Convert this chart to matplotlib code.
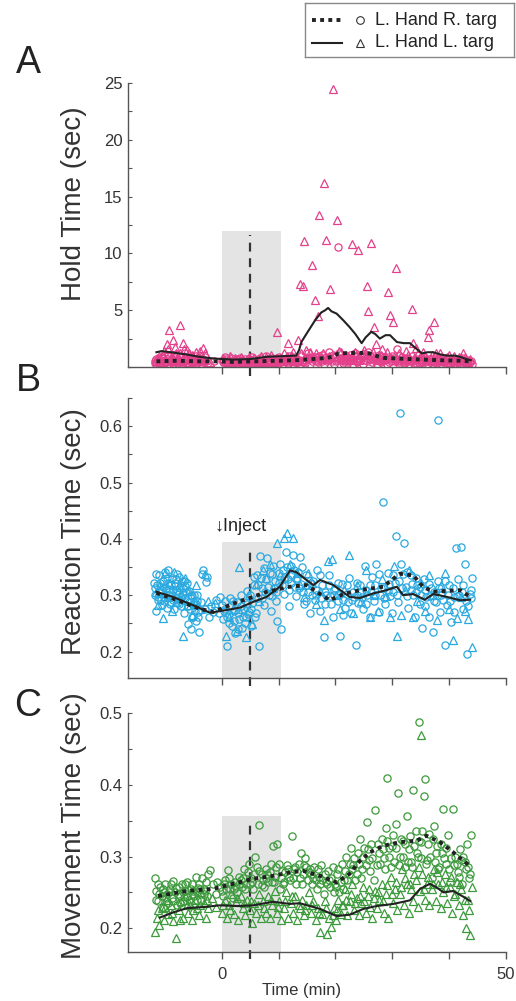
import numpy as np
import matplotlib.pyplot as plt
from matplotlib.ticker import MultipleLocator, FixedLocator, NullFormatter

TICK_SIZE = 12
LABEL_SIZE = 20
LETTER_SIZE = 27
TEXT_COLOR = "#333333"
SPINE_COLOR = "#555555"

PINK = "#e3408c"
BLUE = "#2aa9e0"
GREEN = "#3c9a3c"

plt.rcParams["font.family"] = ["Liberation Sans", "DejaVu Sans"]

# ------------------------------------------------------------------------------------------------------------- #
# Data: (time [min], value [sec])
# ------------------------------------------------------------------------------------------------------------- #
hold_circ = [(-11.8, 0.35), (-11.5, 0.7), (-11.3, 0.6), (-11.0, 0.25), (-10.8, 0.3), (-10.5, 0.9), (-10.3, 0.8),
             (-10.0, 0.4), (-9.8, 0.45), (-9.5, 1.1), (-9.3, 0.25), (-9.0, 0.55), (-8.8, 0.7), (-8.5, 0.3),
             (-8.3, 0.5), (-8.0, 1.0), (-7.8, 0.35), (-7.5, 0.6), (-7.3, 0.9), (-7.0, 0.3), (-6.8, 0.4),
             (-6.5, 1.2), (-6.3, 0.6), (-6.0, 0.3), (-5.8, 0.3), (-5.5, 0.85), (-5.3, 0.75), (-5.0, 0.4),
             (-4.8, 0.5), (-4.5, 1.0), (-4.3, 0.35), (-4.0, 0.6), (-3.8, 0.65), (-3.5, 0.3), (-3.3, 0.45),
             (-3.0, 0.9), (-2.6, 0.3), (-1.4, 0.5), (0.2, 0.4), (0.5, 0.9), (0.8, 0.7), (1.1, 0.5), (1.4, 0.3),
             (1.7, 0.8), (2.0, 0.55), (2.3, 0.3), (2.6, 0.35), (2.9, 0.6), (3.2, 0.8), (3.5, 0.3), (3.8, 0.45),
             (4.1, 0.7), (4.4, 0.3), (4.7, 0.5), (5.0, 0.6), (5.3, 0.9), (5.6, 0.25), (5.9, 0.45), (6.2, 0.5),
             (6.5, 0.3), (6.8, 0.75), (7.1, 0.5), (7.4, 0.35), (7.7, 1.0), (8.0, 0.55), (8.3, 0.3), (8.6, 0.4),
             (8.9, 0.8), (9.2, 0.65), (9.5, 0.35), (9.8, 0.3), (10.1, 0.9), (10.4, 0.5), (10.7, 0.3), (11.0, 0.7),
             (11.3, 0.5), (11.6, 0.4), (11.9, 1.0), (12.2, 0.55), (12.5, 0.3), (12.8, 0.85), (13.1, 0.6),
             (13.4, 0.45), (13.7, 0.3), (14.0, 1.0), (14.3, 0.4), (14.6, 0.6), (14.9, 0.8), (15.2, 1.2),
             (15.5, 0.3), (15.8, 0.5), (16.1, 0.7), (16.4, 0.9), (16.7, 0.5), (17.0, 0.4), (17.3, 0.8),
             (17.6, 1.1), (17.9, 0.3), (18.2, 0.7), (18.5, 0.5), (18.8, 1.3), (19.1, 0.9), (19.4, 0.5),
             (19.7, 0.3), (20.0, 0.9), (20.3, 0.6), (20.5, 10.6), (20.7, 1.2), (21.0, 0.6), (21.3, 0.35),
             (21.6, 1.0), (21.9, 0.7), (22.2, 0.4), (22.5, 1.1), (22.8, 0.8), (23.1, 0.3), (23.4, 1.2),
             (23.7, 0.6), (24.0, 0.5), (24.3, 1.0), (24.6, 0.9), (24.9, 0.3), (25.2, 0.6), (25.5, 1.1),
             (25.8, 1.3), (26.1, 0.7), (26.4, 0.45), (26.7, 1.0), (27.0, 0.8), (27.3, 0.3), (27.6, 1.1),
             (27.9, 0.6), (28.2, 0.5), (28.5, 0.9), (28.8, 0.7), (29.1, 0.3), (29.4, 0.4), (29.7, 0.8),
             (30.0, 1.0), (30.4, 0.5), (30.8, 1.6), (31.1, 0.3), (31.4, 0.6), (31.7, 0.9), (32.0, 0.35),
             (32.3, 0.6), (32.6, 0.8), (32.9, 0.3), (33.2, 0.5), (33.5, 1.0), (33.8, 0.3), (34.1, 0.6),
             (34.4, 0.7), (34.7, 0.35), (35.0, 0.45), (35.3, 0.8), (35.6, 0.9), (35.9, 0.5), (36.2, 0.3),
             (36.5, 0.7), (36.8, 0.6), (37.1, 0.3), (37.4, 0.4), (37.7, 0.9), (38.0, 0.75), (38.3, 0.5),
             (38.6, 0.3), (38.9, 0.6), (39.2, 0.55), (39.5, 0.8), (39.8, 0.35), (40.1, 0.5), (40.4, 0.65),
             (40.7, 0.3), (41.0, 0.3), (41.3, 0.7), (41.6, 0.5), (41.9, 0.4), (42.2, 0.8), (42.5, 0.3),
             (42.8, 0.35), (43.1, 0.6), (43.4, 0.55), (43.7, 0.4), (44.0, 0.3)]
hold_circ2 = [(-11.7, 0.5), (-11.2, 0.4), (-10.7, 0.6), (-10.2, 0.3), (-9.7, 0.7), (-9.2, 0.5), (-8.7, 0.4),
              (-8.2, 0.8), (-7.7, 0.55), (-7.2, 0.45), (-6.7, 0.65), (-6.2, 0.35), (-5.7, 0.55), (-5.2, 0.4),
              (-4.7, 0.7), (-4.2, 0.5), (-3.7, 0.3), (-3.2, 0.6), (0.3, 0.6), (0.9, 0.35), (1.5, 0.55),
              (2.1, 0.4), (2.7, 0.7), (3.3, 0.45), (3.9, 0.3), (4.5, 0.55), (5.1, 0.4), (5.7, 0.7), (6.3, 0.35),
              (6.9, 0.5), (7.5, 0.6), (8.1, 0.4), (8.7, 0.3), (9.3, 0.5), (9.9, 0.7), (10.5, 0.4), (11.1, 0.55),
              (11.7, 0.3), (12.3, 0.7), (12.9, 0.45), (13.5, 0.6), (14.1, 0.5), (14.7, 0.35), (15.3, 0.7),
              (15.9, 0.9), (16.5, 0.6), (17.1, 1.0), (17.7, 0.5), (18.3, 0.9), (18.9, 0.6), (19.5, 1.1),
              (20.1, 0.5), (20.8, 0.8), (21.4, 0.5), (22.0, 0.9), (22.6, 0.6), (23.2, 1.0), (23.8, 0.4),
              (24.4, 0.7), (25.0, 1.0), (25.6, 0.5), (26.2, 0.9), (26.8, 0.6), (27.4, 0.8), (28.0, 0.4),
              (28.6, 0.6), (29.2, 0.9), (29.8, 0.5), (30.6, 0.7), (31.2, 0.45), (31.8, 0.6), (32.4, 0.4),
              (33.0, 0.7), (33.6, 0.5), (34.2, 0.35), (34.8, 0.6), (35.4, 0.4), (36.0, 0.65), (36.6, 0.45),
              (37.2, 0.55), (37.8, 0.35), (38.4, 0.6), (39.0, 0.4), (39.6, 0.5), (40.2, 0.3), (40.8, 0.55),
              (41.4, 0.4), (42.0, 0.6), (42.6, 0.45), (43.2, 0.3), (43.8, 0.5)]
hold_tri = [(-11.6, 0.5), (-11.1, 1.0), (-10.6, 0.4), (-10.1, 1.4), (-9.7, 2.0), (-9.3, 3.3), (-8.9, 0.7),
            (-8.5, 2.4), (-8.1, 1.2), (-7.7, 0.5), (-7.3, 3.7), (-6.9, 2.1), (-6.5, 0.9), (-6.1, 1.5),
            (-5.7, 0.4), (-5.3, 1.1), (-4.9, 0.7), (-4.5, 1.3), (-4.1, 0.5), (-3.7, 1.0), (-3.3, 1.7),
            (-2.9, 0.6), (-2.0, 0.4), (0.3, 0.8), (0.9, 0.4), (1.5, 1.0), (2.1, 0.6), (2.7, 0.3), (3.3, 0.9),
            (3.9, 0.5), (4.5, 0.7), (5.1, 0.35), (5.7, 0.8), (6.3, 0.5), (6.9, 1.0), (7.5, 0.4), (8.1, 0.7),
            (8.7, 1.1), (9.3, 0.5), (9.7, 3.1), (10.3, 0.8), (10.9, 1.2), (11.5, 0.6), (11.7, 2.1), (12.3, 1.0),
            (12.9, 0.5), (13.4, 2.4), (13.8, 7.3), (14.2, 7.1), (14.4, 11.1), (14.8, 1.5), (15.3, 0.8),
            (15.8, 9.0), (16.4, 5.9), (16.6, 1.2), (17.0, 4.5), (17.1, 13.4), (17.5, 0.7), (18.0, 16.2),
            (18.4, 11.2), (18.8, 1.0), (19.1, 6.9), (19.6, 24.5), (20.2, 12.9), (20.7, 1.4), (21.3, 0.8),
            (21.9, 1.1), (22.5, 0.6), (22.9, 10.8), (23.4, 1.3), (23.9, 10.3), (24.4, 0.9), (25.0, 1.5),
            (25.5, 7.1), (25.8, 4.9), (26.3, 10.9), (26.8, 3.5), (27.2, 2.0), (27.6, 1.0), (28.2, 1.6),
            (28.8, 0.7), (29.3, 6.6), (29.6, 4.6), (30.2, 4.0), (30.6, 8.7), (31.2, 1.2), (31.8, 0.8),
            (32.4, 1.4), (33.0, 0.6), (33.4, 5.1), (33.6, 2.1), (34.2, 1.7), (34.8, 0.9), (35.4, 1.3),
            (36.0, 0.6), (36.3, 2.6), (36.5, 3.3), (37.0, 1.1), (37.3, 4.0), (37.8, 0.8), (38.4, 1.2),
            (39.0, 0.5), (39.6, 0.9), (40.2, 0.4), (40.8, 1.0), (41.4, 0.6), (42.0, 0.8), (42.5, 1.2),
            (43.1, 0.5), (43.7, 0.7)]
hold_tri2 = [(-11.4, 0.8), (-10.9, 0.6), (-10.4, 1.1), (-9.9, 0.5), (-9.5, 1.6), (-9.0, 0.9), (-8.6, 0.5),
             (-8.2, 1.8), (-7.8, 0.8), (-7.4, 1.2), (-7.0, 0.6), (-6.7, 1.6), (-6.2, 0.8), (-5.8, 1.2),
             (-5.4, 0.6), (-5.0, 1.0), (-4.6, 0.5), (-4.2, 0.9), (-3.8, 1.4), (-3.4, 0.6), (-3.0, 1.2),
             (0.6, 0.5), (1.2, 0.7), (1.8, 0.4), (2.4, 0.8), (3.0, 0.5), (3.6, 0.7), (4.2, 0.4), (4.8, 0.9),
             (5.4, 0.6), (6.0, 0.4), (6.6, 0.7), (7.2, 0.5), (7.8, 0.9), (8.4, 0.6), (9.0, 0.4), (9.6, 0.8),
             (10.2, 0.5), (10.8, 0.7), (11.4, 1.0), (12.0, 0.6), (12.6, 1.3), (13.2, 0.8), (14.0, 1.2),
             (14.6, 0.9), (15.6, 1.3), (16.2, 0.9), (17.8, 1.2), (18.6, 0.8), (19.8, 1.0), (21.0, 1.3),
             (21.6, 0.6), (22.2, 1.0), (23.0, 0.7), (23.6, 1.1), (24.2, 0.6), (24.8, 1.2), (26.0, 0.8),
             (26.6, 1.3), (27.4, 0.6), (28.0, 1.1), (28.6, 0.9), (29.0, 1.3), (29.8, 0.8), (30.4, 1.1),
             (31.0, 0.6), (31.6, 1.0), (32.2, 0.7), (32.8, 1.1), (33.8, 0.8), (34.5, 1.2), (35.1, 0.7),
             (35.7, 1.0), (36.8, 0.8), (37.6, 1.2), (38.1, 0.6), (38.7, 0.9), (39.3, 0.6), (39.9, 1.1),
             (40.5, 0.7), (41.1, 0.5), (41.7, 0.9), (42.3, 0.6), (42.8, 0.9), (43.4, 0.4)]
hold_avg_r = [(-11.5, 0.5), (-8.0, 0.55), (-4.0, 0.5), (-1.0, 0.5), (2.0, 0.45), (6.0, 0.5), (10.0, 0.55),
              (13.0, 0.6), (16.0, 0.7), (18.5, 0.8), (19.5, 0.9), (20.5, 1.2), (24.0, 1.25), (26.0, 1.2),
              (27.0, 1.0), (28.5, 0.8), (33.0, 0.7), (38.0, 0.6), (42.0, 0.55), (43.8, 0.5)]
hold_avg_l = [(-11.5, 1.3), (-10.6, 1.4), (-9.0, 1.3), (-6.2, 1.1), (-4.0, 0.9), (-1.5, 0.75), (2.0, 0.65),
              (5.0, 0.7), (7.9, 0.9), (10.5, 0.95), (13.1, 1.0), (13.6, 1.5), (14.0, 2.2), (15.0, 3.0),
              (16.4, 4.1), (17.5, 4.8), (18.2, 5.0), (18.7, 5.2), (19.3, 4.9), (20.2, 4.7), (21.4, 4.1),
              (22.5, 3.5), (23.5, 2.9), (24.6, 2.1), (25.3, 2.6), (26.3, 3.1), (27.0, 2.9), (27.8, 2.5),
              (28.8, 2.8), (29.6, 2.8), (30.8, 2.2), (32.0, 2.1), (33.1, 2.1), (34.0, 1.7), (35.2, 1.2),
              (36.2, 1.3), (37.2, 1.3), (38.5, 1.1), (39.6, 1.0), (41.0, 1.0), (41.9, 0.9), (43.0, 0.7),
              (43.8, 0.6)]

react_circ = [(-11.8, 0.300), (-11.6, 0.272), (-11.4, 0.318), (-11.2, 0.291), (-11.0, 0.335), (-10.8, 0.305),
              (-10.6, 0.283), (-10.4, 0.326), (-10.2, 0.297), (-10.0, 0.341), (-9.8, 0.312), (-9.6, 0.278),
              (-9.4, 0.322), (-9.2, 0.300), (-9.0, 0.288), (-8.8, 0.331), (-8.6, 0.309), (-8.4, 0.275),
              (-8.2, 0.317), (-8.0, 0.295), (-7.8, 0.338), (-7.6, 0.285), (-7.4, 0.312), (-7.2, 0.280),
              (-7.0, 0.326), (-6.8, 0.302), (-6.6, 0.268), (-6.4, 0.316), (-6.2, 0.290), (-6.0, 0.249),
              (-5.8, 0.308), (-5.6, 0.276), (-5.4, 0.240), (-5.2, 0.298), (-5.0, 0.262), (-4.8, 0.282),
              (-4.6, 0.255), (-4.4, 0.300), (-4.2, 0.270), (-4.0, 0.235), (-3.6, 0.288), (-3.3, 0.344),
              (-3.0, 0.276), (-2.6, 0.332), (-2.2, 0.262), (-1.6, 0.271), (-1.0, 0.292), (-0.5, 0.268),
              (0.0, 0.283), (0.3, 0.258), (0.6, 0.276), (0.9, 0.210), (1.2, 0.266), (1.5, 0.295), (1.8, 0.246),
              (2.1, 0.272), (2.4, 0.232), (2.7, 0.288), (3.0, 0.258), (3.3, 0.300), (3.6, 0.242), (3.9, 0.276),
              (4.2, 0.262), (4.5, 0.308), (4.8, 0.270), (5.1, 0.245), (5.4, 0.286), (5.7, 0.332), (6.0, 0.268),
              (6.3, 0.295), (6.6, 0.210), (6.8, 0.370), (7.1, 0.312), (7.4, 0.282), (7.7, 0.328), (8.0, 0.366),
              (8.3, 0.300), (8.6, 0.272), (8.9, 0.338), (9.2, 0.312), (9.5, 0.290), (9.8, 0.255), (10.1, 0.322),
              (10.4, 0.240), (10.7, 0.345), (11.0, 0.302), (11.3, 0.376), (11.6, 0.328), (11.9, 0.280),
              (12.2, 0.352), (12.5, 0.372), (12.8, 0.315), (13.1, 0.298), (13.4, 0.342), (13.7, 0.368),
              (14.0, 0.320), (14.4, 0.285), (14.8, 0.336), (15.2, 0.305), (15.6, 0.268), (16.0, 0.325),
              (16.4, 0.292), (16.8, 0.345), (17.2, 0.272), (17.6, 0.318), (18.0, 0.225), (18.4, 0.300),
              (18.8, 0.335), (19.2, 0.285), (19.6, 0.262), (20.0, 0.312), (20.4, 0.290), (20.8, 0.228),
              (21.2, 0.320), (21.6, 0.278), (22.0, 0.302), (22.4, 0.330), (22.8, 0.268), (23.2, 0.296),
              (23.6, 0.212), (24.0, 0.286), (24.4, 0.318), (24.8, 0.275), (25.2, 0.352), (25.6, 0.300),
              (26.0, 0.262), (26.4, 0.332), (26.8, 0.290), (27.2, 0.355), (27.6, 0.270), (28.0, 0.312),
              (28.4, 0.465), (28.8, 0.285), (29.2, 0.340), (29.6, 0.298), (30.0, 0.268), (30.4, 0.322),
              (30.7, 0.405), (31.0, 0.288), (31.3, 0.623), (31.6, 0.355), (32.0, 0.392), (32.4, 0.315),
              (32.8, 0.278), (33.2, 0.335), (33.6, 0.300), (34.0, 0.262), (34.4, 0.318), (34.8, 0.285),
              (35.2, 0.242), (35.6, 0.328), (36.0, 0.296), (36.4, 0.262), (36.8, 0.312), (37.2, 0.235),
              (37.6, 0.288), (38.0, 0.325), (38.1, 0.611), (38.4, 0.270), (38.8, 0.305), (39.2, 0.212),
              (39.6, 0.282), (40.0, 0.318), (40.4, 0.252), (40.8, 0.296), (41.2, 0.384), (41.6, 0.328),
              (42.0, 0.386), (42.4, 0.275), (42.8, 0.355), (43.2, 0.195), (43.6, 0.302), (44.0, 0.330),
              (-11.7, 0.312), (-11.3, 0.296), (-10.9, 0.322), (-10.5, 0.310), (-10.1, 0.290), (-9.7, 0.330),
              (-9.3, 0.305), (-8.9, 0.318), (-8.5, 0.292), (-8.1, 0.328), (-7.7, 0.302), (-7.3, 0.290),
              (-6.9, 0.312), (-6.5, 0.295), (-6.1, 0.322), (-5.7, 0.288), (-5.3, 0.262), (-4.9, 0.300),
              (-4.5, 0.285), (-4.1, 0.262), (-3.5, 0.338), (-2.8, 0.324), (-1.9, 0.280), (-0.3, 0.296),
              (0.4, 0.272), (1.0, 0.262), (1.6, 0.280), (2.2, 0.255), (2.8, 0.268), (3.4, 0.280), (4.0, 0.250),
              (4.6, 0.266), (5.2, 0.275), (5.8, 0.262), (6.4, 0.318), (7.0, 0.295), (7.6, 0.305), (8.2, 0.315),
              (8.8, 0.298), (9.4, 0.325), (10.0, 0.340), (10.6, 0.318), (11.2, 0.332), (11.8, 0.310),
              (12.4, 0.335), (13.0, 0.328), (13.6, 0.312), (14.2, 0.305), (15.0, 0.318), (15.8, 0.300),
              (16.6, 0.310), (17.4, 0.295), (18.2, 0.305), (19.0, 0.298), (19.8, 0.310), (20.6, 0.300),
              (21.4, 0.292), (22.2, 0.288), (23.0, 0.305), (23.8, 0.300), (24.6, 0.296), (25.4, 0.310),
              (26.2, 0.305), (27.0, 0.318), (27.8, 0.300), (28.6, 0.312), (29.4, 0.320), (30.2, 0.305),
              (31.1, 0.325), (31.9, 0.338), (32.6, 0.342), (33.4, 0.320), (34.2, 0.305), (35.0, 0.300),
              (35.8, 0.310), (36.6, 0.298), (37.4, 0.305), (38.2, 0.312), (39.0, 0.292), (39.8, 0.300),
              (40.6, 0.312), (41.4, 0.298), (42.2, 0.305), (43.0, 0.290), (43.8, 0.310)]
react_circ2 = [(-11.9, 0.322), (-11.5, 0.338), (-11.1, 0.305), (-10.7, 0.292), (-10.3, 0.315), (-9.9, 0.300),
               (-9.5, 0.345), (-9.1, 0.285), (-8.7, 0.300), (-8.3, 0.322), (-7.9, 0.310), (-7.5, 0.332),
               (-7.1, 0.296), (-6.7, 0.325), (-6.3, 0.305), (-5.9, 0.280), (-5.5, 0.300), (-5.1, 0.285),
               (-4.7, 0.272), (-4.3, 0.290), (0.5, 0.290), (1.3, 0.250), (2.0, 0.290), (2.9, 0.240),
               (3.7, 0.262), (4.4, 0.285), (5.0, 0.300), (5.6, 0.318), (6.2, 0.335), (6.9, 0.330), (7.5, 0.348),
               (8.4, 0.340), (9.0, 0.352), (9.6, 0.305), (10.3, 0.355), (10.9, 0.328), (11.5, 0.350),
               (12.1, 0.322), (12.7, 0.345), (13.3, 0.330), (14.1, 0.350), (14.9, 0.290), (15.7, 0.322),
               (16.5, 0.300), (17.3, 0.335), (18.1, 0.285), (18.9, 0.318), (19.7, 0.300), (20.5, 0.322),
               (21.3, 0.265), (22.1, 0.318), (22.9, 0.292), (23.7, 0.322), (24.5, 0.305), (25.3, 0.285),
               (26.1, 0.318), (26.9, 0.300), (27.7, 0.338), (28.5, 0.295), (29.3, 0.308), (30.1, 0.335),
               (30.9, 0.300), (31.7, 0.312), (32.5, 0.298), (33.3, 0.310), (34.1, 0.330), (34.9, 0.315),
               (35.7, 0.280), (36.5, 0.320), (37.3, 0.290), (38.5, 0.300), (39.3, 0.325), (40.1, 0.290),
               (40.9, 0.270), (41.7, 0.300), (42.5, 0.318), (43.3, 0.280), (43.9, 0.295)]
react_tri = [(-11.6, 0.305), (-11.2, 0.282), (-10.8, 0.318), (-10.4, 0.260), (-10.0, 0.340), (-9.6, 0.296),
             (-9.2, 0.322), (-8.8, 0.272), (-8.4, 0.342), (-8.0, 0.288), (-7.6, 0.318), (-7.2, 0.300),
             (-6.9, 0.228), (-6.5, 0.330), (-6.1, 0.282), (-5.7, 0.308), (-5.3, 0.265), (-4.9, 0.292),
             (-4.5, 0.318), (-3.8, 0.275), (-3.0, 0.338), (-2.4, 0.290), (-1.2, 0.286), (0.8, 0.228),
             (1.3, 0.262), (2.0, 0.275), (2.6, 0.236), (3.1, 0.350), (3.6, 0.275), (4.2, 0.226), (4.8, 0.300),
             (5.4, 0.248), (6.0, 0.320), (6.6, 0.290), (7.2, 0.345), (7.8, 0.330), (8.4, 0.355), (9.0, 0.312),
             (9.7, 0.392), (10.3, 0.335), (11.0, 0.402), (11.5, 0.410), (12.0, 0.355), (12.6, 0.402),
             (13.2, 0.340), (13.8, 0.318), (14.5, 0.296), (15.2, 0.340), (15.9, 0.322), (16.6, 0.285),
             (17.3, 0.308), (17.9, 0.256), (18.6, 0.360), (19.4, 0.365), (20.1, 0.300), (20.8, 0.275),
             (21.5, 0.310), (22.3, 0.372), (23.0, 0.268), (23.7, 0.318), (24.5, 0.290), (25.3, 0.345),
             (26.0, 0.262), (26.8, 0.300), (27.5, 0.272), (28.2, 0.328), (28.9, 0.298), (29.6, 0.262),
             (30.3, 0.352), (30.9, 0.228), (31.5, 0.265), (32.2, 0.310), (32.9, 0.345), (33.6, 0.262),
             (34.3, 0.290), (35.0, 0.322), (35.7, 0.272), (36.4, 0.335), (37.1, 0.300), (37.8, 0.256),
             (38.5, 0.318), (39.2, 0.340), (39.9, 0.275), (40.6, 0.220), (41.3, 0.260), (42.0, 0.296),
             (42.7, 0.272), (43.4, 0.258), (44.0, 0.208)]
react_avg_r = [(-11.5, 0.304), (-8.6, 0.294), (-3.9, 0.276), (-1.5, 0.270), (2.0, 0.285), (5.5, 0.297),
               (7.9, 0.306), (12.0, 0.315), (14.9, 0.318), (16.7, 0.306), (19.0, 0.291), (21.4, 0.302),
               (24.3, 0.309), (28.4, 0.315), (31.3, 0.338), (33.7, 0.335), (35.4, 0.315), (37.2, 0.306),
               (41.9, 0.309), (43.7, 0.297)]
react_avg_l = [(-11.5, 0.306), (-8.6, 0.297), (-5.0, 0.282), (-2.1, 0.269), (-0.1, 0.272), (3.2, 0.278),
               (5.5, 0.288), (7.9, 0.297), (10.2, 0.315), (12.0, 0.344), (13.1, 0.341), (14.9, 0.327),
               (16.1, 0.318), (17.3, 0.327), (19.6, 0.318), (22.5, 0.297), (24.3, 0.295), (26.6, 0.303),
               (29.0, 0.309), (30.8, 0.315), (31.9, 0.300), (33.7, 0.302), (35.7, 0.292), (37.2, 0.302),
               (39.6, 0.297), (41.9, 0.291), (43.7, 0.292)]

move_circ = [(-11.8, 0.270), (-11.5, 0.252), (-11.2, 0.238), (-10.9, 0.258), (-10.6, 0.245), (-10.3, 0.230),
             (-10.0, 0.262), (-9.7, 0.248), (-9.4, 0.235), (-9.1, 0.255), (-8.8, 0.242), (-8.5, 0.266),
             (-8.2, 0.250), (-7.9, 0.232), (-7.6, 0.258), (-7.3, 0.245), (-7.0, 0.262), (-6.7, 0.238),
             (-6.4, 0.252), (-6.1, 0.265), (-5.8, 0.240), (-5.5, 0.255), (-5.2, 0.262), (-4.9, 0.245),
             (-4.6, 0.272), (-4.3, 0.250), (-4.0, 0.262), (-3.7, 0.238), (-3.4, 0.270), (-3.1, 0.255),
             (-2.8, 0.265), (-2.4, 0.276), (-2.1, 0.281), (-1.6, 0.262), (-1.0, 0.248), (-0.4, 0.258),
             (0.2, 0.245), (0.6, 0.268), (1.1, 0.281), (1.5, 0.255), (1.9, 0.242), (2.3, 0.265), (2.7, 0.250),
             (3.1, 0.272), (3.5, 0.258), (3.9, 0.282), (4.3, 0.262), (4.7, 0.290), (5.1, 0.270), (5.5, 0.255),
             (5.9, 0.300), (6.3, 0.262), (6.6, 0.344), (7.0, 0.275), (7.4, 0.258), (7.8, 0.282), (8.2, 0.265),
             (8.6, 0.290), (9.0, 0.315), (9.4, 0.272), (9.8, 0.317), (10.2, 0.255), (10.6, 0.280),
             (11.0, 0.265), (11.4, 0.288), (11.8, 0.272), (12.3, 0.329), (12.7, 0.282), (13.1, 0.262),
             (13.5, 0.290), (13.9, 0.305), (14.3, 0.275), (14.7, 0.298), (15.1, 0.268), (15.5, 0.282),
             (15.9, 0.262), (16.3, 0.285), (16.7, 0.255), (17.1, 0.272), (17.5, 0.288), (17.9, 0.248),
             (18.3, 0.265), (18.7, 0.280), (19.1, 0.258), (19.5, 0.285), (19.9, 0.262), (20.3, 0.275),
             (20.7, 0.250), (21.1, 0.290), (21.5, 0.268), (21.9, 0.300), (22.3, 0.275), (22.7, 0.312),
             (23.1, 0.288), (23.5, 0.268), (23.9, 0.305), (24.3, 0.325), (24.7, 0.282), (25.1, 0.312),
             (25.5, 0.348), (25.9, 0.295), (26.3, 0.318), (26.9, 0.365), (27.3, 0.288), (27.7, 0.305),
             (28.1, 0.325), (28.5, 0.298), (28.9, 0.340), (29.0, 0.410), (29.4, 0.312), (29.8, 0.285),
             (30.2, 0.330), (30.6, 0.346), (31.0, 0.389), (31.4, 0.300), (31.8, 0.322), (32.2, 0.285),
             (32.5, 0.356), (32.9, 0.310), (33.3, 0.292), (33.7, 0.393), (34.1, 0.335), (34.5, 0.300),
             (34.7, 0.488), (35.1, 0.320), (35.5, 0.385), (35.7, 0.408), (36.1, 0.295), (36.5, 0.332),
             (36.9, 0.270), (37.3, 0.342), (37.7, 0.305), (38.1, 0.282), (38.5, 0.318), (39.0, 0.366),
             (39.4, 0.290), (39.8, 0.330), (40.2, 0.265), (40.7, 0.366), (41.1, 0.300), (41.5, 0.278),
             (41.9, 0.310), (42.3, 0.262), (42.7, 0.292), (43.1, 0.318), (43.5, 0.270), (43.9, 0.330),
             (-11.6, 0.240), (-11.0, 0.248), (-10.4, 0.255), (-9.8, 0.242), (-9.2, 0.250), (-8.6, 0.238),
             (-8.0, 0.256), (-7.4, 0.235), (-6.8, 0.250), (-6.2, 0.244), (-5.6, 0.236), (-5.0, 0.252),
             (-4.4, 0.240), (-3.8, 0.255), (-3.2, 0.248), (-2.6, 0.245), (-0.8, 0.265), (0.0, 0.252),
             (0.8, 0.255), (1.7, 0.262), (2.5, 0.258), (3.3, 0.268), (4.1, 0.255), (4.9, 0.262), (5.7, 0.275),
             (6.5, 0.280), (7.3, 0.268), (8.0, 0.275), (8.8, 0.265), (9.6, 0.285), (10.4, 0.270),
             (11.2, 0.278), (12.0, 0.268), (12.9, 0.285), (13.7, 0.270), (14.5, 0.288), (15.3, 0.278),
             (16.1, 0.270), (16.9, 0.282), (17.7, 0.268), (18.5, 0.262), (19.3, 0.270), (20.1, 0.258),
             (20.9, 0.265), (21.7, 0.280), (22.5, 0.290), (23.3, 0.298), (24.1, 0.290), (24.9, 0.300),
             (25.7, 0.310), (26.5, 0.298), (27.5, 0.318), (28.3, 0.310), (29.1, 0.322), (29.9, 0.315),
             (30.7, 0.312), (31.5, 0.325), (32.3, 0.318), (33.1, 0.328), (33.9, 0.315), (34.7, 0.322),
             (35.3, 0.335), (36.3, 0.318), (37.1, 0.325), (37.9, 0.315), (38.7, 0.305), (39.5, 0.312),
             (40.3, 0.298), (41.3, 0.290), (42.1, 0.295), (42.9, 0.282), (43.7, 0.275)]
move_circ2 = [(-11.3, 0.262), (-10.1, 0.250), (-9.0, 0.262), (-7.7, 0.248), (-6.5, 0.262), (-5.3, 0.248),
              (-4.1, 0.256), (-2.9, 0.252), (0.4, 0.262), (1.3, 0.270), (2.1, 0.255), (3.0, 0.262), (3.8, 0.270),
              (4.6, 0.278), (5.4, 0.265), (6.2, 0.285), (7.0, 0.260), (7.8, 0.270), (8.5, 0.278), (9.2, 0.265),
              (10.0, 0.290), (10.8, 0.262), (11.6, 0.282), (12.5, 0.270), (13.3, 0.278), (14.1, 0.262),
              (14.9, 0.285), (15.7, 0.275), (16.5, 0.268), (17.3, 0.262), (18.1, 0.275), (18.9, 0.268),
              (19.7, 0.250), (20.5, 0.282), (21.3, 0.255), (22.1, 0.268), (22.9, 0.282), (23.7, 0.275),
              (24.5, 0.270), (25.3, 0.288), (26.1, 0.280), (26.7, 0.268), (27.9, 0.290), (28.7, 0.282),
              (29.5, 0.300), (30.3, 0.292), (31.1, 0.288), (31.9, 0.300), (32.7, 0.292), (33.5, 0.285),
              (34.3, 0.305), (35.0, 0.298), (35.9, 0.290), (36.7, 0.300), (37.5, 0.292), (38.3, 0.285),
              (39.1, 0.298), (39.9, 0.282), (40.9, 0.288), (41.7, 0.272), (42.5, 0.300), (43.3, 0.285)]
move_tri = [(-11.8, 0.195), (-11.4, 0.215), (-11.0, 0.205), (-10.6, 0.228), (-10.2, 0.212), (-9.8, 0.240),
            (-9.4, 0.220), (-9.0, 0.232), (-8.6, 0.210), (-8.0, 0.187), (-7.6, 0.225), (-7.2, 0.238),
            (-6.8, 0.215), (-6.4, 0.245), (-6.0, 0.222), (-5.6, 0.232), (-5.2, 0.212), (-4.8, 0.240),
            (-4.4, 0.228), (-4.0, 0.218), (-3.6, 0.250), (-3.2, 0.235), (-2.8, 0.215), (-2.4, 0.228),
            (-1.8, 0.242), (-1.0, 0.230), (0.1, 0.222), (0.5, 0.240), (0.9, 0.215), (1.3, 0.232), (1.7, 0.248),
            (2.1, 0.220), (2.5, 0.236), (2.9, 0.212), (3.3, 0.245), (3.7, 0.228), (4.1, 0.218), (4.5, 0.240),
            (4.9, 0.225), (5.3, 0.208), (5.7, 0.235), (6.1, 0.222), (6.5, 0.248), (6.9, 0.215), (7.3, 0.238),
            (7.7, 0.222), (8.1, 0.245), (8.5, 0.215), (8.9, 0.232), (9.3, 0.252), (9.7, 0.222), (10.1, 0.238),
            (10.5, 0.212), (10.9, 0.228), (11.3, 0.250), (11.7, 0.215), (12.1, 0.235), (12.5, 0.222),
            (12.9, 0.245), (13.3, 0.212), (13.7, 0.228), (14.1, 0.240), (14.5, 0.218), (14.9, 0.232),
            (15.3, 0.250), (15.7, 0.222), (16.1, 0.238), (16.5, 0.212), (16.9, 0.228), (17.3, 0.195),
            (17.7, 0.220), (18.1, 0.238), (18.5, 0.192), (18.9, 0.215), (19.3, 0.202), (19.7, 0.228),
            (20.1, 0.212), (20.5, 0.240), (20.9, 0.220), (21.3, 0.232), (21.7, 0.255), (22.1, 0.218),
            (22.5, 0.238), (22.9, 0.262), (23.3, 0.225), (23.7, 0.242), (24.1, 0.218), (24.5, 0.235),
            (24.9, 0.258), (25.3, 0.222), (25.7, 0.245), (26.1, 0.230), (26.5, 0.215), (26.9, 0.252),
            (27.3, 0.228), (27.7, 0.240), (28.1, 0.262), (28.5, 0.222), (28.9, 0.248), (29.3, 0.215),
            (29.7, 0.272), (30.1, 0.235), (30.5, 0.255), (30.9, 0.225), (31.3, 0.248), (31.7, 0.282),
            (32.1, 0.232), (32.5, 0.262), (32.9, 0.222), (33.3, 0.255), (33.7, 0.238), (34.1, 0.268),
            (34.5, 0.230), (34.9, 0.252), (35.0, 0.469), (35.3, 0.275), (35.7, 0.240), (36.1, 0.262),
            (36.5, 0.232), (36.9, 0.255), (37.3, 0.282), (37.7, 0.238), (38.1, 0.262), (38.5, 0.228),
            (38.9, 0.250), (39.3, 0.275), (39.7, 0.235), (40.1, 0.258), (40.5, 0.222), (40.9, 0.245),
            (41.3, 0.265), (41.7, 0.232), (42.1, 0.255), (42.5, 0.218), (42.9, 0.200), (43.3, 0.240),
            (43.7, 0.190), (44.0, 0.258)]
move_tri2 = [(-11.2, 0.225), (-10.0, 0.230), (-8.8, 0.222), (-7.4, 0.212), (-6.2, 0.232), (-5.0, 0.225),
             (-3.8, 0.232), (-2.6, 0.240), (0.3, 0.232), (1.5, 0.225), (2.7, 0.242), (3.9, 0.235), (5.1, 0.238),
             (6.3, 0.232), (7.5, 0.228), (8.7, 0.240), (9.9, 0.230), (11.1, 0.238), (12.3, 0.245), (13.5, 0.232),
             (14.7, 0.225), (15.9, 0.232), (17.1, 0.222), (18.3, 0.228), (19.5, 0.218), (20.3, 0.225),
             (21.1, 0.232), (21.9, 0.240), (22.7, 0.248), (23.5, 0.235), (24.3, 0.245), (25.1, 0.238),
             (25.9, 0.255), (26.7, 0.242), (27.5, 0.250), (28.3, 0.238), (29.1, 0.260), (29.9, 0.248),
             (30.7, 0.265), (31.5, 0.258), (32.3, 0.270), (33.1, 0.262), (33.9, 0.275), (34.7, 0.285),
             (35.5, 0.255), (36.3, 0.272), (37.1, 0.262), (37.9, 0.278), (38.7, 0.265), (39.5, 0.258),
             (40.3, 0.272), (41.1, 0.248), (41.9, 0.262), (42.7, 0.240), (43.5, 0.225)]
move_avg_r = [(-11.2, 0.245), (-6.2, 0.252), (-1.5, 0.255), (2.0, 0.262), (5.5, 0.269), (9.0, 0.273),
              (12.0, 0.278), (14.3, 0.280), (17.3, 0.273), (20.2, 0.264), (22.5, 0.276), (24.3, 0.294),
              (26.1, 0.306), (28.4, 0.315), (31.3, 0.320), (34.3, 0.322), (36.0, 0.329), (38.4, 0.320),
              (40.7, 0.306), (42.5, 0.294), (43.7, 0.287)]
move_avg_l = [(-10.9, 0.215), (-8.6, 0.222), (-6.2, 0.228), (-2.7, 0.230), (-0.4, 0.232), (3.2, 0.231),
              (5.5, 0.232), (9.0, 0.237), (12.0, 0.234), (13.7, 0.235), (17.3, 0.227), (20.2, 0.217),
              (22.5, 0.219), (24.9, 0.227), (27.2, 0.231), (30.2, 0.234), (33.1, 0.239), (34.9, 0.255),
              (36.6, 0.262), (37.8, 0.257), (39.0, 0.250), (40.7, 0.252), (42.5, 0.244), (43.7, 0.238)]

inject_span = (0, 10.5)
inject_time = 5

panels = [
    ("A", "Hold Time (sec)", PINK, hold_circ + hold_circ2, hold_tri + hold_tri2, hold_avg_r, hold_avg_l),
    ("B", "Reaction Time (sec)", BLUE, react_circ + react_circ2, react_tri, react_avg_r, react_avg_l),
    ("C", "Movement Time (sec)", GREEN, move_circ + move_circ2, move_tri + move_tri2, move_avg_r, move_avg_l),
]

# axes boxes in pixels: top, bottom of the plot area
W, H = 516, 1001
boxes = [(83, 367), (398, 678), (713, 952)]
ylims = [(0, 25), (0.153, 0.65), (0.167, 0.5)]
shade_top = [12, 0.394, 0.357]
yticks = [[5, 10, 15, 20, 25], [0.2, 0.3, 0.4, 0.5, 0.6], [0.2, 0.3, 0.4, 0.5]]
label_y = [204, 532, 826]
letter_y = [63, 381, 706]


def xy(pairs):
    arr = np.array(pairs)
    return arr[:, 0], arr[:, 1]


fig = plt.figure(figsize=(W / 100, H / 100), dpi=100)

for i, (letter, ylabel, color, circ, tri, avg_r, avg_l) in enumerate(panels):
    top, bot = boxes[i]
    ax = fig.add_axes([128 / W, 1 - bot / H, 378 / W, (bot - top) / H])
    ax.set_xlim(-16.5, 50)
    ax.set_ylim(*ylims[i])

    # injection window and time
    ax.fill_between(inject_span, [ylims[i][0]] * 2, [shade_top[i]] * 2, color="#e4e4e4", lw=0, zorder=0)
    yfrac = (shade_top[i] * 0.97 - ylims[i][0]) / (ylims[i][1] - ylims[i][0])
    ax.axvline(inject_time, ymin=-0.03, ymax=yfrac, color="#333333", lw=1.6, dashes=(4, 3),
               clip_on=False, zorder=1)

    t, v = xy(circ)
    ax.plot(t, v, "o", ms=5.2, mfc="none", mec=color, mew=0.9, zorder=2)
    t, v = xy(tri)
    ax.plot(t, v, "^", ms=5.8, mfc="none", mec=color, mew=0.9, zorder=2)
    t, v = xy(avg_r)
    ax.plot(t, v, color="#222222", lw=2.8, linestyle=(0, (1, 1.1)), zorder=3)
    t, v = xy(avg_l)
    ax.plot(t, v, color="#222222", lw=1.5, zorder=3)

    for s in ["top", "right"]:
        ax.spines[s].set_visible(False)
    for s in ["left", "bottom"]:
        ax.spines[s].set_color(SPINE_COLOR)
        ax.spines[s].set_linewidth(1)

    ax.xaxis.set_major_locator(FixedLocator([0, 10, 20, 30, 40, 50]))
    if i == 2:
        ax.set_xticklabels(["0", "", "", "", "", "50"])
    else:
        ax.xaxis.set_major_formatter(NullFormatter())
    ax.tick_params(axis="x", direction="out", length=5, width=1, color=SPINE_COLOR,
                   labelsize=TICK_SIZE, labelcolor=TEXT_COLOR, pad=6)

    ax.set_yticks(yticks[i])
    if i == 0:
        ax.yaxis.set_minor_locator(MultipleLocator(2.5))
    else:
        ax.yaxis.set_minor_locator(MultipleLocator(0.05))
        ax.set_yticklabels(["%.1f" % y for y in yticks[i]])
    ax.tick_params(axis="y", which="both", direction="in", length=3, width=0.8, color=SPINE_COLOR,
                   labelsize=TICK_SIZE, labelcolor=TEXT_COLOR, pad=4)

    fig.text(74 / W, 1 - label_y[i] / H, ylabel, rotation=90, ha="center", va="center",
             fontsize=LABEL_SIZE, color=TEXT_COLOR)
    fig.text(28 / W, 1 - letter_y[i] / H, letter, ha="center", va="center",
             fontsize=LETTER_SIZE, color="#222222")

    if i == 1:
        ax.text(-1.3, 0.422, "\u2193Inject", ha="left", va="center", fontsize=13, color="#222222",
                family=["Liberation Sans", "DejaVu Sans"])

fig.text(302 / W, 1 - 990 / H, "Time (min)", ha="center", va="center", fontsize=12, color=TEXT_COLOR)

# ------------------------------------------------------------------------------------------------------------- #
# Legend drawn by hand in its own box
# ------------------------------------------------------------------------------------------------------------- #
lax = fig.add_axes([305 / W, 1 - 57 / H, 209 / W, 54 / H])
lax.set_xlim(0, 1)
lax.set_ylim(0, 1)
lax.set_xticks([])
lax.set_yticks([])
for s in lax.spines.values():
    s.set_color("#888888")
    s.set_linewidth(1)
rows = [(0.68, (0, (1, 1.1)), 2.8, "o", "L. Hand R. targ"), (0.26, "-", 1.5, "^", "L. Hand L. targ")]
for ypos, ls, lw, mk, txt in rows:
    lax.plot([0.035, 0.175], [ypos, ypos], color="#222222", lw=lw, linestyle=ls)
    lax.plot([0.263], [ypos], mk, ms=5.5, mfc="none", mec="#333333", mew=0.8)
    lax.text(0.335, ypos, txt, ha="left", va="center", fontsize=13, color="#222222")

fig.savefig("out.png", dpi=100)
